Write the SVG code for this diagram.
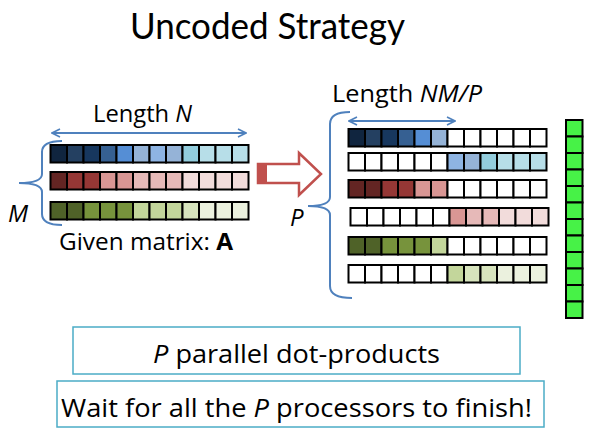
<svg xmlns="http://www.w3.org/2000/svg" width="598" height="433" viewBox="0 0 598 433">
<style>
text{font-family:"Open Sans",Lato,"Liberation Sans",sans-serif;fill:#000}
.t{font-family:Lato,"Open Sans",sans-serif}
.c{stroke:#000;stroke-width:2}
.br{fill:none;stroke:#4F81BD;stroke-width:2}
.ar{fill:none;stroke:#4F81BD;stroke-width:2}
.box{fill:#fff;stroke:#4BACC6;stroke-width:1.5}
.w{fill:#fff}
.b1{fill:#10253F}.b2{fill:#244061}.b3{fill:#17375E}.b4{fill:#366092}.b5{fill:#558ED5}.b6{fill:#95B3D7}.b7{fill:#8EB4E3}.b8{fill:#93CDDD}.b9{fill:#B7DEE8}
.r1{fill:#632523}.r2{fill:#953735}.r3{fill:#D99694}.r4{fill:#E6B9B8}.r5{fill:#F2DCDB}
.g1{fill:#4F6228}.g2{fill:#77933C}.g3{fill:#C3D69B}.g4{fill:#D7E4BD}.g5{fill:#EBF1DE}
.gr{fill:#47F247;stroke:#000;stroke-width:2}
</style>
<defs>
<marker id="ah" viewBox="0 0 10 10" refX="9" refY="5" markerWidth="5" markerHeight="5" orient="auto-start-reverse">
<path d="M1,1 L9,5 L1,9" fill="none" stroke="#4F81BD" stroke-width="1.6"/>
</marker>
</defs>

<text class="t" x="130" y="39" font-size="36" textLength="275" lengthAdjust="spacingAndGlyphs">Uncoded Strategy</text>

<g id="matrixA">
<text x="93" y="122" font-size="23.5" textLength="99" lengthAdjust="spacingAndGlyphs">Length <tspan font-style="italic">N</tspan></text>
<g id="rowA1">
<rect class="c b1" x="50.5" y="145" width="16.5" height="17.5"/><rect class="c b2" x="67" y="145" width="16.5" height="17.5"/><rect class="c b3" x="83.5" y="145" width="16.5" height="17.5"/><rect class="c b4" x="100" y="145" width="16.5" height="17.5"/><rect class="c b5" x="116.5" y="145" width="16.5" height="17.5"/><rect class="c b6" x="133" y="145" width="16.5" height="17.5"/><rect class="c b7" x="149.5" y="145" width="16.5" height="17.5"/><rect class="c b6" x="166" y="145" width="16.5" height="17.5"/><rect class="c b8" x="182.5" y="145" width="16.5" height="17.5"/><rect class="c b9" x="199" y="145" width="16.5" height="17.5"/><rect class="c b9" x="215.5" y="145" width="16.5" height="17.5"/><rect class="c b9" x="232" y="145" width="16.5" height="17.5"/>
</g>
<g id="rowA2">
<rect class="c r1" x="50.5" y="172" width="16.5" height="17.5"/><rect class="c r2" x="67" y="172" width="16.5" height="17.5"/><rect class="c r2" x="83.5" y="172" width="16.5" height="17.5"/><rect class="c r3" x="100" y="172" width="16.5" height="17.5"/><rect class="c r3" x="116.5" y="172" width="16.5" height="17.5"/><rect class="c r4" x="133" y="172" width="16.5" height="17.5"/><rect class="c r4" x="149.5" y="172" width="16.5" height="17.5"/><rect class="c r4" x="166" y="172" width="16.5" height="17.5"/><rect class="c r5" x="182.5" y="172" width="16.5" height="17.5"/><rect class="c r5" x="199" y="172" width="16.5" height="17.5"/><rect class="c r5" x="215.5" y="172" width="16.5" height="17.5"/><rect class="c r5" x="232" y="172" width="16.5" height="17.5"/>
</g>
<g id="rowA3">
<rect class="c g1" x="50.5" y="202" width="16.5" height="17.5"/><rect class="c g1" x="67" y="202" width="16.5" height="17.5"/><rect class="c g2" x="83.5" y="202" width="16.5" height="17.5"/><rect class="c g2" x="100" y="202" width="16.5" height="17.5"/><rect class="c g2" x="116.5" y="202" width="16.5" height="17.5"/><rect class="c g3" x="133" y="202" width="16.5" height="17.5"/><rect class="c g3" x="149.5" y="202" width="16.5" height="17.5"/><rect class="c g3" x="166" y="202" width="16.5" height="17.5"/><rect class="c g4" x="182.5" y="202" width="16.5" height="17.5"/><rect class="c g5" x="199" y="202" width="16.5" height="17.5"/><rect class="c g5" x="215.5" y="202" width="16.5" height="17.5"/><rect class="c g5" x="232" y="202" width="16.5" height="17.5"/>
</g>
<text x="8" y="222" font-size="24" font-style="italic">M</text>
<text x="59" y="250" font-size="23.5" textLength="174" lengthAdjust="spacingAndGlyphs">Given matrix: <tspan font-weight="bold">A</tspan></text>
</g>

<g id="transform-arrow">
<polygon points="258,164 299,164 299,153 321,174 299,195 299,183 258,183" fill="#fff" stroke="#C0504D" stroke-width="2.5"/>
<rect x="258" y="164" width="9" height="19" fill="#C0504D"/>
</g>

<g id="partitioned">
<text x="332" y="102" font-size="23.5" textLength="150" lengthAdjust="spacingAndGlyphs">Length <tspan font-style="italic">NM/P</tspan></text>
<text x="290" y="226" font-size="24" font-style="italic">P</text>
<g id="rowP1">
<rect class="c b1" x="348.5" y="129" width="16.5" height="17.5"/><rect class="c b2" x="365" y="129" width="16.5" height="17.5"/><rect class="c b3" x="381.5" y="129" width="16.5" height="17.5"/><rect class="c b4" x="398" y="129" width="16.5" height="17.5"/><rect class="c b5" x="414.5" y="129" width="16.5" height="17.5"/><rect class="c b6" x="431" y="129" width="16.5" height="17.5"/><rect class="c w" x="447.5" y="129" width="16.5" height="17.5"/><rect class="c w" x="464" y="129" width="16.5" height="17.5"/><rect class="c w" x="480.5" y="129" width="16.5" height="17.5"/><rect class="c w" x="497" y="129" width="16.5" height="17.5"/><rect class="c w" x="513.5" y="129" width="16.5" height="17.5"/><rect class="c w" x="530" y="129" width="16.5" height="17.5"/>
</g>
<g id="rowP2">
<rect class="c w" x="348.5" y="153" width="16.5" height="17.5"/><rect class="c w" x="365" y="153" width="16.5" height="17.5"/><rect class="c w" x="381.5" y="153" width="16.5" height="17.5"/><rect class="c w" x="398" y="153" width="16.5" height="17.5"/><rect class="c w" x="414.5" y="153" width="16.5" height="17.5"/><rect class="c w" x="431" y="153" width="16.5" height="17.5"/><rect class="c b7" x="447.5" y="153" width="16.5" height="17.5"/><rect class="c b6" x="464" y="153" width="16.5" height="17.5"/><rect class="c b8" x="480.5" y="153" width="16.5" height="17.5"/><rect class="c b9" x="497" y="153" width="16.5" height="17.5"/><rect class="c b9" x="513.5" y="153" width="16.5" height="17.5"/><rect class="c b9" x="530" y="153" width="16.5" height="17.5"/>
</g>
<g id="rowP3">
<rect class="c r1" x="348.5" y="180" width="16.5" height="17.5"/><rect class="c r1" x="365" y="180" width="16.5" height="17.5"/><rect class="c r2" x="381.5" y="180" width="16.5" height="17.5"/><rect class="c r2" x="398" y="180" width="16.5" height="17.5"/><rect class="c r3" x="414.5" y="180" width="16.5" height="17.5"/><rect class="c r3" x="431" y="180" width="16.5" height="17.5"/><rect class="c w" x="447.5" y="180" width="16.5" height="17.5"/><rect class="c w" x="464" y="180" width="16.5" height="17.5"/><rect class="c w" x="480.5" y="180" width="16.5" height="17.5"/><rect class="c w" x="497" y="180" width="16.5" height="17.5"/><rect class="c w" x="513.5" y="180" width="16.5" height="17.5"/><rect class="c w" x="530" y="180" width="16.5" height="17.5"/>
</g>
<g id="rowP4">
<rect class="c w" x="350.5" y="208" width="16.5" height="17.5"/><rect class="c w" x="367" y="208" width="16.5" height="17.5"/><rect class="c w" x="383.5" y="208" width="16.5" height="17.5"/><rect class="c w" x="400" y="208" width="16.5" height="17.5"/><rect class="c w" x="416.5" y="208" width="16.5" height="17.5"/><rect class="c w" x="433" y="208" width="16.5" height="17.5"/><rect class="c r3" x="449.5" y="208" width="16.5" height="17.5"/><rect class="c r4" x="466" y="208" width="16.5" height="17.5"/><rect class="c r4" x="482.5" y="208" width="16.5" height="17.5"/><rect class="c r5" x="499" y="208" width="16.5" height="17.5"/><rect class="c r5" x="515.5" y="208" width="16.5" height="17.5"/><rect class="c r5" x="532" y="208" width="16.5" height="17.5"/>
</g>
<g id="rowP5">
<rect class="c g1" x="348.5" y="237" width="16.5" height="17.5"/><rect class="c g1" x="365" y="237" width="16.5" height="17.5"/><rect class="c g2" x="381.5" y="237" width="16.5" height="17.5"/><rect class="c g2" x="398" y="237" width="16.5" height="17.5"/><rect class="c g2" x="414.5" y="237" width="16.5" height="17.5"/><rect class="c g3" x="431" y="237" width="16.5" height="17.5"/><rect class="c w" x="447.5" y="237" width="16.5" height="17.5"/><rect class="c w" x="464" y="237" width="16.5" height="17.5"/><rect class="c w" x="480.5" y="237" width="16.5" height="17.5"/><rect class="c w" x="497" y="237" width="16.5" height="17.5"/><rect class="c w" x="513.5" y="237" width="16.5" height="17.5"/><rect class="c w" x="530" y="237" width="16.5" height="17.5"/>
</g>
<g id="rowP6">
<rect class="c w" x="348.5" y="265" width="16.5" height="17.5"/><rect class="c w" x="365" y="265" width="16.5" height="17.5"/><rect class="c w" x="381.5" y="265" width="16.5" height="17.5"/><rect class="c w" x="398" y="265" width="16.5" height="17.5"/><rect class="c w" x="414.5" y="265" width="16.5" height="17.5"/><rect class="c w" x="431" y="265" width="16.5" height="17.5"/><rect class="c g3" x="447.5" y="265" width="16.5" height="17.5"/><rect class="c g4" x="464" y="265" width="16.5" height="17.5"/><rect class="c g4" x="480.5" y="265" width="16.5" height="17.5"/><rect class="c g5" x="497" y="265" width="16.5" height="17.5"/><rect class="c g5" x="513.5" y="265" width="16.5" height="17.5"/><rect class="c g5" x="530" y="265" width="16.5" height="17.5"/>
</g>
</g>

<g id="vector">
<rect class="gr" x="566" y="120" width="16.5" height="16.5"/><rect class="gr" x="566" y="136.5" width="16.5" height="16.5"/><rect class="gr" x="566" y="153" width="16.5" height="16.5"/><rect class="gr" x="566" y="169.5" width="16.5" height="16.5"/><rect class="gr" x="566" y="186" width="16.5" height="16.5"/><rect class="gr" x="566" y="202.5" width="16.5" height="16.5"/><rect class="gr" x="566" y="219" width="16.5" height="16.5"/><rect class="gr" x="566" y="235.5" width="16.5" height="16.5"/><rect class="gr" x="566" y="252" width="16.5" height="16.5"/><rect class="gr" x="566" y="268.5" width="16.5" height="16.5"/><rect class="gr" x="566" y="285" width="16.5" height="16.5"/><rect class="gr" x="566" y="301.5" width="16.5" height="16.5"/>
</g>

<g id="connectors">
<line class="ar" x1="52" y1="133" x2="246" y2="133" marker-start="url(#ah)" marker-end="url(#ah)"/>
<line class="ar" x1="349" y1="121" x2="455" y2="121" marker-start="url(#ah)" marker-end="url(#ah)"/>
<path class="br" d="M62,141 Q42,141 42,152 L42,174 Q42,183 19,183 Q42,183 42,192 L42,214 Q42,225 62,225"/>
<path class="br" d="M350,112 Q330,112 330,124 L330,197 Q330,206 308,206 Q330,206 330,215 L330,286 Q330,298 352,298"/>
</g>

<g id="box1">
<rect class="box" x="73" y="327" width="447" height="47"/>
<text x="153" y="363" font-size="26" textLength="287" lengthAdjust="spacingAndGlyphs"><tspan font-style="italic">P</tspan> parallel dot-products</text>
</g>
<g id="box2">
<rect class="box" x="57" y="381" width="487" height="46"/>
<text x="61" y="417" font-size="26" textLength="471" lengthAdjust="spacingAndGlyphs">Wait for all the <tspan font-style="italic">P</tspan> processors to finish!</text>
</g>
</svg>
